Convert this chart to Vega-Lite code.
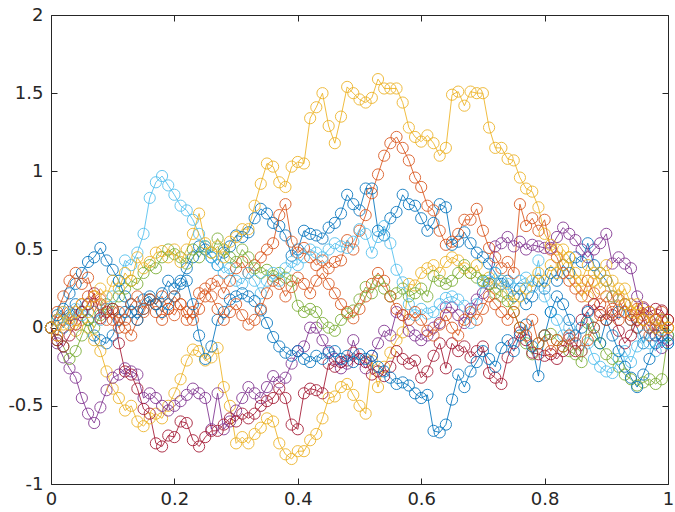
{
"$schema": "https://vega.github.io/schema/vega-lite/v6.json",
"width": 617, "height": 469,
"autosize": {"type": "none"},
"padding": {"left": 51, "top": 15, "right": 7, "bottom": 28},
"config": {"view": {"stroke": "#262626", "strokeWidth": 1}, "axis": {"grid": false, "domain": false, "tickColor": "#262626", "labelColor": "#262626", "labelFont": "DejaVu Sans", "labelFontSize": 18, "title": null}},
"datasets": {"d": [
{"s":1,"x":0,"y":0},{"s":1,"x":0.01,"y":0.05},{"s":1,"x":0.02,"y":0},{"s":1,"x":0.03,"y":0.08},{"s":1,"x":0.04,"y":0.15},{"s":1,"x":0.05,"y":0.1},{"s":1,"x":0.06,"y":0.05},{"s":1,"x":0.07,"y":-0.05},{"s":1,"x":0.08,"y":-0.08},{"s":1,"x":0.09,"y":-0.1},
{"s":1,"x":0.1,"y":-0.05},{"s":1,"x":0.11,"y":0.05},{"s":1,"x":0.12,"y":0.1},{"s":1,"x":0.13,"y":0.15},{"s":1,"x":0.14,"y":0.1},{"s":1,"x":0.15,"y":0.18},{"s":1,"x":0.16,"y":0.2},{"s":1,"x":0.17,"y":0.15},{"s":1,"x":0.18,"y":0.22},{"s":1,"x":0.19,"y":0.3},
{"s":1,"x":0.2,"y":0.25},{"s":1,"x":0.21,"y":0.3},{"s":1,"x":0.22,"y":0.38},{"s":1,"x":0.23,"y":0.45},{"s":1,"x":0.24,"y":0.52},{"s":1,"x":0.25,"y":0.5},{"s":1,"x":0.26,"y":0.45},{"s":1,"x":0.27,"y":0.4},{"s":1,"x":0.28,"y":0.48},{"s":1,"x":0.29,"y":0.52},
{"s":1,"x":0.3,"y":0.59},{"s":1,"x":0.31,"y":0.58},{"s":1,"x":0.32,"y":0.61},{"s":1,"x":0.33,"y":0.7},{"s":1,"x":0.34,"y":0.76},{"s":1,"x":0.35,"y":0.73},{"s":1,"x":0.36,"y":0.67},{"s":1,"x":0.37,"y":0.65},{"s":1,"x":0.38,"y":0.59},{"s":1,"x":0.39,"y":0.46},
{"s":1,"x":0.4,"y":0.5},{"s":1,"x":0.41,"y":0.62},{"s":1,"x":0.42,"y":0.6},{"s":1,"x":0.43,"y":0.59},{"s":1,"x":0.44,"y":0.57},{"s":1,"x":0.45,"y":0.64},{"s":1,"x":0.46,"y":0.67},{"s":1,"x":0.47,"y":0.73},{"s":1,"x":0.48,"y":0.85},{"s":1,"x":0.49,"y":0.79},
{"s":1,"x":0.5,"y":0.75},{"s":1,"x":0.51,"y":0.89},{"s":1,"x":0.52,"y":0.89},{"s":1,"x":0.53,"y":0.62},{"s":1,"x":0.54,"y":0.59},{"s":1,"x":0.55,"y":0.7},{"s":1,"x":0.56,"y":0.74},{"s":1,"x":0.57,"y":0.85},{"s":1,"x":0.58,"y":0.79},{"s":1,"x":0.59,"y":0.78},
{"s":1,"x":0.6,"y":0.7},{"s":1,"x":0.61,"y":0.62},{"s":1,"x":0.62,"y":0.67},{"s":1,"x":0.63,"y":0.79},{"s":1,"x":0.64,"y":0.77},{"s":1,"x":0.65,"y":0.53},{"s":1,"x":0.66,"y":0.55},{"s":1,"x":0.67,"y":0.61},{"s":1,"x":0.68,"y":0.54},{"s":1,"x":0.69,"y":0.48},
{"s":1,"x":0.7,"y":0.45},{"s":1,"x":0.71,"y":0.41},{"s":1,"x":0.72,"y":0.35},{"s":1,"x":0.73,"y":0.28},{"s":1,"x":0.74,"y":0.3},{"s":1,"x":0.75,"y":0.2},{"s":1,"x":0.76,"y":0.25},{"s":1,"x":0.77,"y":0.15},{"s":1,"x":0.78,"y":0.2},{"s":1,"x":0.79,"y":0.3},
{"s":1,"x":0.8,"y":0.25},{"s":1,"x":0.81,"y":0.35},{"s":1,"x":0.82,"y":0.3},{"s":1,"x":0.83,"y":0.4},{"s":1,"x":0.84,"y":0.35},{"s":1,"x":0.85,"y":0.45},{"s":1,"x":0.86,"y":0.42},{"s":1,"x":0.87,"y":0.54},{"s":1,"x":0.88,"y":0.4},{"s":1,"x":0.89,"y":0.35},
{"s":1,"x":0.9,"y":0.3},{"s":1,"x":0.91,"y":0.2},{"s":1,"x":0.92,"y":0.1},{"s":1,"x":0.93,"y":0.15},{"s":1,"x":0.94,"y":0.05},{"s":1,"x":0.95,"y":0},{"s":1,"x":0.96,"y":-0.1},{"s":1,"x":0.97,"y":0},{"s":1,"x":0.98,"y":-0.05},{"s":1,"x":0.99,"y":0.05},{"s":1,"x":1,"y":-0.05},

{"s":2,"x":0,"y":0},{"s":2,"x":0.01,"y":-0.05},{"s":2,"x":0.02,"y":0.05},{"s":2,"x":0.03,"y":0.1},{"s":2,"x":0.04,"y":0.05},{"s":2,"x":0.05,"y":0.15},{"s":2,"x":0.06,"y":0.2},{"s":2,"x":0.07,"y":0.1},{"s":2,"x":0.08,"y":0.18},{"s":2,"x":0.09,"y":0.12},
{"s":2,"x":0.1,"y":0.05},{"s":2,"x":0.11,"y":0.1},{"s":2,"x":0.12,"y":0},{"s":2,"x":0.13,"y":-0.05},{"s":2,"x":0.14,"y":0.05},{"s":2,"x":0.15,"y":0.1},{"s":2,"x":0.16,"y":0.18},{"s":2,"x":0.17,"y":0.15},{"s":2,"x":0.18,"y":0.2},{"s":2,"x":0.19,"y":0.12},
{"s":2,"x":0.2,"y":0.08},{"s":2,"x":0.21,"y":0.15},{"s":2,"x":0.22,"y":0.1},{"s":2,"x":0.23,"y":0.05},{"s":2,"x":0.24,"y":0.12},{"s":2,"x":0.25,"y":0.2},{"s":2,"x":0.26,"y":0.28},{"s":2,"x":0.27,"y":0.3},{"s":2,"x":0.28,"y":0.22},{"s":2,"x":0.29,"y":0.3},
{"s":2,"x":0.3,"y":0.38},{"s":2,"x":0.31,"y":0.42},{"s":2,"x":0.32,"y":0.35},{"s":2,"x":0.33,"y":0.4},{"s":2,"x":0.34,"y":0.45},{"s":2,"x":0.35,"y":0.5},{"s":2,"x":0.36,"y":0.54},{"s":2,"x":0.37,"y":0.72},{"s":2,"x":0.38,"y":0.79},{"s":2,"x":0.39,"y":0.55},
{"s":2,"x":0.4,"y":0.48},{"s":2,"x":0.41,"y":0.51},{"s":2,"x":0.42,"y":0.45},{"s":2,"x":0.43,"y":0.4},{"s":2,"x":0.44,"y":0.43},{"s":2,"x":0.45,"y":0.38},{"s":2,"x":0.46,"y":0.42},{"s":2,"x":0.47,"y":0.43},{"s":2,"x":0.48,"y":0.56},{"s":2,"x":0.49,"y":0.5},
{"s":2,"x":0.5,"y":0.62},{"s":2,"x":0.51,"y":0.72},{"s":2,"x":0.52,"y":0.86},{"s":2,"x":0.53,"y":0.98},{"s":2,"x":0.54,"y":1.1},{"s":2,"x":0.55,"y":1.18},{"s":2,"x":0.56,"y":1.22},{"s":2,"x":0.57,"y":1.15},{"s":2,"x":0.58,"y":1.07},{"s":2,"x":0.59,"y":0.96},
{"s":2,"x":0.6,"y":0.9},{"s":2,"x":0.61,"y":0.78},{"s":2,"x":0.62,"y":0.75},{"s":2,"x":0.63,"y":0.62},{"s":2,"x":0.64,"y":0.53},{"s":2,"x":0.65,"y":0.55},{"s":2,"x":0.66,"y":0.6},{"s":2,"x":0.67,"y":0.69},{"s":2,"x":0.68,"y":0.69},{"s":2,"x":0.69,"y":0.76},
{"s":2,"x":0.7,"y":0.62},{"s":2,"x":0.71,"y":0.51},{"s":2,"x":0.72,"y":0.45},{"s":2,"x":0.73,"y":0.38},{"s":2,"x":0.74,"y":0.42},{"s":2,"x":0.75,"y":0.35},{"s":2,"x":0.76,"y":0.79},{"s":2,"x":0.77,"y":0.65},{"s":2,"x":0.78,"y":0.7},{"s":2,"x":0.79,"y":0.62},
{"s":2,"x":0.8,"y":0.69},{"s":2,"x":0.81,"y":0.5},{"s":2,"x":0.82,"y":0.45},{"s":2,"x":0.83,"y":0.35},{"s":2,"x":0.84,"y":0.3},{"s":2,"x":0.85,"y":0.25},{"s":2,"x":0.86,"y":0.2},{"s":2,"x":0.87,"y":0.3},{"s":2,"x":0.88,"y":0.22},{"s":2,"x":0.89,"y":0.15},
{"s":2,"x":0.9,"y":0.2},{"s":2,"x":0.91,"y":0.1},{"s":2,"x":0.92,"y":0.05},{"s":2,"x":0.93,"y":0.15},{"s":2,"x":0.94,"y":0.08},{"s":2,"x":0.95,"y":0},{"s":2,"x":0.96,"y":0.05},{"s":2,"x":0.97,"y":-0.05},{"s":2,"x":0.98,"y":0.02},{"s":2,"x":0.99,"y":0.1},{"s":2,"x":1,"y":0.05},

{"s":3,"x":0,"y":0},{"s":3,"x":0.01,"y":-0.05},{"s":3,"x":0.02,"y":0.02},{"s":3,"x":0.03,"y":0.06},{"s":3,"x":0.04,"y":-0.02},{"s":3,"x":0.05,"y":0.05},{"s":3,"x":0.06,"y":0},{"s":3,"x":0.07,"y":-0.08},{"s":3,"x":0.08,"y":-0.15},{"s":3,"x":0.09,"y":-0.28},
{"s":3,"x":0.1,"y":-0.39},{"s":3,"x":0.11,"y":-0.45},{"s":3,"x":0.12,"y":-0.53},{"s":3,"x":0.13,"y":-0.5},{"s":3,"x":0.14,"y":-0.6},{"s":3,"x":0.15,"y":-0.63},{"s":3,"x":0.16,"y":-0.58},{"s":3,"x":0.17,"y":-0.55},{"s":3,"x":0.18,"y":-0.58},{"s":3,"x":0.19,"y":-0.5},
{"s":3,"x":0.2,"y":-0.42},{"s":3,"x":0.21,"y":-0.33},{"s":3,"x":0.22,"y":-0.21},{"s":3,"x":0.23,"y":-0.14},{"s":3,"x":0.24,"y":-0.15},{"s":3,"x":0.25,"y":-0.21},{"s":3,"x":0.26,"y":-0.19},{"s":3,"x":0.27,"y":-0.13},{"s":3,"x":0.28,"y":-0.38},{"s":3,"x":0.29,"y":-0.5},
{"s":3,"x":0.3,"y":-0.74},{"s":3,"x":0.31,"y":-0.7},{"s":3,"x":0.32,"y":-0.74},{"s":3,"x":0.33,"y":-0.68},{"s":3,"x":0.34,"y":-0.64},{"s":3,"x":0.35,"y":-0.58},{"s":3,"x":0.36,"y":-0.6},{"s":3,"x":0.37,"y":-0.74},{"s":3,"x":0.38,"y":-0.81},{"s":3,"x":0.39,"y":-0.84},
{"s":3,"x":0.4,"y":-0.79},{"s":3,"x":0.41,"y":-0.79},{"s":3,"x":0.42,"y":-0.72},{"s":3,"x":0.43,"y":-0.68},{"s":3,"x":0.44,"y":-0.58},{"s":3,"x":0.45,"y":-0.45},{"s":3,"x":0.46,"y":-0.44},{"s":3,"x":0.47,"y":-0.38},{"s":3,"x":0.48,"y":-0.36},{"s":3,"x":0.49,"y":-0.43},
{"s":3,"x":0.5,"y":-0.5},{"s":3,"x":0.51,"y":-0.55},{"s":3,"x":0.52,"y":-0.21},{"s":3,"x":0.53,"y":-0.38},{"s":3,"x":0.54,"y":-0.25},{"s":3,"x":0.55,"y":-0.16},{"s":3,"x":0.56,"y":-0.08},{"s":3,"x":0.57,"y":-0.03},{"s":3,"x":0.58,"y":0.28},{"s":3,"x":0.59,"y":0.27},
{"s":3,"x":0.6,"y":0.35},{"s":3,"x":0.61,"y":0.38},{"s":3,"x":0.62,"y":0.4},{"s":3,"x":0.63,"y":0.35},{"s":3,"x":0.64,"y":0.42},{"s":3,"x":0.65,"y":0.45},{"s":3,"x":0.66,"y":0.43},{"s":3,"x":0.67,"y":0.38},{"s":3,"x":0.68,"y":0.35},{"s":3,"x":0.69,"y":0.4},
{"s":3,"x":0.7,"y":0.3},{"s":3,"x":0.71,"y":0.32},{"s":3,"x":0.72,"y":0.25},{"s":3,"x":0.73,"y":0.3},{"s":3,"x":0.74,"y":0.22},{"s":3,"x":0.75,"y":0.15},{"s":3,"x":0.76,"y":0.2},{"s":3,"x":0.77,"y":0.25},{"s":3,"x":0.78,"y":0.3},{"s":3,"x":0.79,"y":0.35},
{"s":3,"x":0.8,"y":0.3},{"s":3,"x":0.81,"y":0.4},{"s":3,"x":0.82,"y":0.35},{"s":3,"x":0.83,"y":0.5},{"s":3,"x":0.84,"y":0.45},{"s":3,"x":0.85,"y":0.3},{"s":3,"x":0.86,"y":0.25},{"s":3,"x":0.87,"y":0.2},{"s":3,"x":0.88,"y":0.3},{"s":3,"x":0.89,"y":0.35},
{"s":3,"x":0.9,"y":0.4},{"s":3,"x":0.91,"y":0.3},{"s":3,"x":0.92,"y":0.2},{"s":3,"x":0.93,"y":0.25},{"s":3,"x":0.94,"y":0.15},{"s":3,"x":0.95,"y":0.1},{"s":3,"x":0.96,"y":0.05},{"s":3,"x":0.97,"y":0.1},{"s":3,"x":0.98,"y":0.05},{"s":3,"x":0.99,"y":0},{"s":3,"x":1,"y":0},

{"s":4,"x":0,"y":0},{"s":4,"x":0.01,"y":-0.1},{"s":4,"x":0.02,"y":-0.19},{"s":4,"x":0.03,"y":-0.26},{"s":4,"x":0.04,"y":-0.32},{"s":4,"x":0.05,"y":-0.45},{"s":4,"x":0.06,"y":-0.55},{"s":4,"x":0.07,"y":-0.61},{"s":4,"x":0.08,"y":-0.51},{"s":4,"x":0.09,"y":-0.4},
{"s":4,"x":0.1,"y":-0.32},{"s":4,"x":0.11,"y":-0.3},{"s":4,"x":0.12,"y":-0.26},{"s":4,"x":0.13,"y":-0.28},{"s":4,"x":0.14,"y":-0.3},{"s":4,"x":0.15,"y":-0.45},{"s":4,"x":0.16,"y":-0.42},{"s":4,"x":0.17,"y":-0.45},{"s":4,"x":0.18,"y":-0.5},{"s":4,"x":0.19,"y":-0.53},
{"s":4,"x":0.2,"y":-0.5},{"s":4,"x":0.21,"y":-0.47},{"s":4,"x":0.22,"y":-0.43},{"s":4,"x":0.23,"y":-0.39},{"s":4,"x":0.24,"y":-0.42},{"s":4,"x":0.25,"y":-0.45},{"s":4,"x":0.26,"y":-0.65},{"s":4,"x":0.27,"y":-0.42},{"s":4,"x":0.28,"y":-0.65},{"s":4,"x":0.29,"y":-0.6},
{"s":4,"x":0.3,"y":-0.53},{"s":4,"x":0.31,"y":-0.45},{"s":4,"x":0.32,"y":-0.38},{"s":4,"x":0.33,"y":-0.42},{"s":4,"x":0.34,"y":-0.45},{"s":4,"x":0.35,"y":-0.38},{"s":4,"x":0.36,"y":-0.31},{"s":4,"x":0.37,"y":-0.35},{"s":4,"x":0.38,"y":-0.32},{"s":4,"x":0.39,"y":-0.23},
{"s":4,"x":0.4,"y":-0.15},{"s":4,"x":0.41,"y":-0.12},{"s":4,"x":0.42,"y":0},{"s":4,"x":0.43,"y":0},{"s":4,"x":0.44,"y":-0.08},{"s":4,"x":0.45,"y":-0.15},{"s":4,"x":0.46,"y":-0.2},{"s":4,"x":0.47,"y":-0.26},{"s":4,"x":0.48,"y":-0.23},{"s":4,"x":0.49,"y":-0.08},
{"s":4,"x":0.5,"y":-0.2},{"s":4,"x":0.51,"y":-0.26},{"s":4,"x":0.52,"y":-0.18},{"s":4,"x":0.53,"y":-0.1},{"s":4,"x":0.54,"y":-0.02},{"s":4,"x":0.55,"y":-0.05},{"s":4,"x":0.56,"y":0.1},{"s":4,"x":0.57,"y":0.08},{"s":4,"x":0.58,"y":-0.02},{"s":4,"x":0.59,"y":-0.05},
{"s":4,"x":0.6,"y":-0.08},{"s":4,"x":0.61,"y":-0.05},{"s":4,"x":0.62,"y":0},{"s":4,"x":0.63,"y":0.03},{"s":4,"x":0.64,"y":0.13},{"s":4,"x":0.65,"y":0.13},{"s":4,"x":0.66,"y":0.08},{"s":4,"x":0.67,"y":0.03},{"s":4,"x":0.68,"y":0.12},{"s":4,"x":0.69,"y":0.18},
{"s":4,"x":0.7,"y":0.22},{"s":4,"x":0.71,"y":0.28},{"s":4,"x":0.72,"y":0.52},{"s":4,"x":0.73,"y":0.54},{"s":4,"x":0.74,"y":0.58},{"s":4,"x":0.75,"y":0.52},{"s":4,"x":0.76,"y":0.55},{"s":4,"x":0.77,"y":0.5},{"s":4,"x":0.78,"y":0.53},{"s":4,"x":0.79,"y":0.52},
{"s":4,"x":0.8,"y":0.51},{"s":4,"x":0.81,"y":0.51},{"s":4,"x":0.82,"y":0.58},{"s":4,"x":0.83,"y":0.64},{"s":4,"x":0.84,"y":0.6},{"s":4,"x":0.85,"y":0.56},{"s":4,"x":0.86,"y":0.5},{"s":4,"x":0.87,"y":0.45},{"s":4,"x":0.88,"y":0.5},{"s":4,"x":0.89,"y":0.54},
{"s":4,"x":0.9,"y":0.6},{"s":4,"x":0.91,"y":0.41},{"s":4,"x":0.92,"y":0.45},{"s":4,"x":0.93,"y":0.41},{"s":4,"x":0.94,"y":0.38},{"s":4,"x":0.95,"y":0.2},{"s":4,"x":0.96,"y":0.12},{"s":4,"x":0.97,"y":0.05},{"s":4,"x":0.98,"y":-0.05},{"s":4,"x":0.99,"y":-0.13},{"s":4,"x":1,"y":-0.08},

{"s":5,"x":0,"y":0},{"s":5,"x":0.01,"y":-0.08},{"s":5,"x":0.02,"y":-0.12},{"s":5,"x":0.03,"y":-0.2},{"s":5,"x":0.04,"y":-0.15},{"s":5,"x":0.05,"y":-0.05},{"s":5,"x":0.06,"y":0.05},{"s":5,"x":0.07,"y":0},{"s":5,"x":0.08,"y":0.08},{"s":5,"x":0.09,"y":0.15},
{"s":5,"x":0.1,"y":0.12},{"s":5,"x":0.11,"y":0.2},{"s":5,"x":0.12,"y":0.25},{"s":5,"x":0.13,"y":0.3},{"s":5,"x":0.14,"y":0.28},{"s":5,"x":0.15,"y":0.35},{"s":5,"x":0.16,"y":0.4},{"s":5,"x":0.17,"y":0.38},{"s":5,"x":0.18,"y":0.45},{"s":5,"x":0.19,"y":0.5},
{"s":5,"x":0.2,"y":0.47},{"s":5,"x":0.21,"y":0.45},{"s":5,"x":0.22,"y":0.41},{"s":5,"x":0.23,"y":0.5},{"s":5,"x":0.24,"y":0.45},{"s":5,"x":0.25,"y":0.52},{"s":5,"x":0.26,"y":0.48},{"s":5,"x":0.27,"y":0.57},{"s":5,"x":0.28,"y":0.5},{"s":5,"x":0.29,"y":0.45},
{"s":5,"x":0.3,"y":0.42},{"s":5,"x":0.31,"y":0.5},{"s":5,"x":0.32,"y":0.45},{"s":5,"x":0.33,"y":0.38},{"s":5,"x":0.34,"y":0.35},{"s":5,"x":0.35,"y":0.37},{"s":5,"x":0.36,"y":0.33},{"s":5,"x":0.37,"y":0.35},{"s":5,"x":0.38,"y":0.32},{"s":5,"x":0.39,"y":0.3},
{"s":5,"x":0.4,"y":0.14},{"s":5,"x":0.41,"y":0.1},{"s":5,"x":0.42,"y":0.12},{"s":5,"x":0.43,"y":0.1},{"s":5,"x":0.44,"y":0.03},{"s":5,"x":0.45,"y":0},{"s":5,"x":0.46,"y":-0.02},{"s":5,"x":0.47,"y":0.05},{"s":5,"x":0.48,"y":0.09},{"s":5,"x":0.49,"y":0.11},
{"s":5,"x":0.5,"y":0.18},{"s":5,"x":0.51,"y":0.26},{"s":5,"x":0.52,"y":0.22},{"s":5,"x":0.53,"y":0.3},{"s":5,"x":0.54,"y":0.25},{"s":5,"x":0.55,"y":0.2},{"s":5,"x":0.56,"y":0.22},{"s":5,"x":0.57,"y":0.25},{"s":5,"x":0.58,"y":0.2},{"s":5,"x":0.59,"y":0.22},
{"s":5,"x":0.6,"y":0.25},{"s":5,"x":0.61,"y":0.2},{"s":5,"x":0.62,"y":0.33},{"s":5,"x":0.63,"y":0.3},{"s":5,"x":0.64,"y":0.28},{"s":5,"x":0.65,"y":0.3},{"s":5,"x":0.66,"y":0.35},{"s":5,"x":0.67,"y":0.4},{"s":5,"x":0.68,"y":0.35},{"s":5,"x":0.69,"y":0.32},
{"s":5,"x":0.7,"y":0.3},{"s":5,"x":0.71,"y":0.28},{"s":5,"x":0.72,"y":0.22},{"s":5,"x":0.73,"y":0.2},{"s":5,"x":0.74,"y":0.17},{"s":5,"x":0.75,"y":0.1},{"s":5,"x":0.76,"y":0},{"s":5,"x":0.77,"y":-0.1},{"s":5,"x":0.78,"y":-0.17},{"s":5,"x":0.79,"y":-0.1},
{"s":5,"x":0.8,"y":-0.05},{"s":5,"x":0.81,"y":-0.04},{"s":5,"x":0.82,"y":-0.08},{"s":5,"x":0.83,"y":-0.12},{"s":5,"x":0.84,"y":-0.15},{"s":5,"x":0.85,"y":-0.17},{"s":5,"x":0.86,"y":-0.22},{"s":5,"x":0.87,"y":0.03},{"s":5,"x":0.88,"y":-0.05},{"s":5,"x":0.89,"y":-0.1},
{"s":5,"x":0.9,"y":-0.17},{"s":5,"x":0.91,"y":-0.2},{"s":5,"x":0.92,"y":-0.25},{"s":5,"x":0.93,"y":-0.3},{"s":5,"x":0.94,"y":-0.33},{"s":5,"x":0.95,"y":-0.37},{"s":5,"x":0.96,"y":-0.35},{"s":5,"x":0.97,"y":-0.33},{"s":5,"x":0.98,"y":-0.36},{"s":5,"x":0.99,"y":-0.33},{"s":5,"x":1,"y":-0.05},

{"s":6,"x":0,"y":0},{"s":6,"x":0.01,"y":0.05},{"s":6,"x":0.02,"y":0.1},{"s":6,"x":0.03,"y":0.05},{"s":6,"x":0.04,"y":0.12},{"s":6,"x":0.05,"y":0.08},{"s":6,"x":0.06,"y":0.15},{"s":6,"x":0.07,"y":0.1},{"s":6,"x":0.08,"y":0.05},{"s":6,"x":0.09,"y":0.12},
{"s":6,"x":0.1,"y":0.2},{"s":6,"x":0.11,"y":0.3},{"s":6,"x":0.12,"y":0.43},{"s":6,"x":0.13,"y":0.4},{"s":6,"x":0.14,"y":0.48},{"s":6,"x":0.15,"y":0.6},{"s":6,"x":0.16,"y":0.83},{"s":6,"x":0.17,"y":0.93},{"s":6,"x":0.18,"y":0.97},{"s":6,"x":0.19,"y":0.91},
{"s":6,"x":0.2,"y":0.85},{"s":6,"x":0.21,"y":0.78},{"s":6,"x":0.22,"y":0.75},{"s":6,"x":0.23,"y":0.69},{"s":6,"x":0.24,"y":0.6},{"s":6,"x":0.25,"y":0.52},{"s":6,"x":0.26,"y":0.45},{"s":6,"x":0.27,"y":0.4},{"s":6,"x":0.28,"y":0.35},{"s":6,"x":0.29,"y":0.38},
{"s":6,"x":0.3,"y":0.3},{"s":6,"x":0.31,"y":0.28},{"s":6,"x":0.32,"y":0.35},{"s":6,"x":0.33,"y":0.3},{"s":6,"x":0.34,"y":0.22},{"s":6,"x":0.35,"y":0.3},{"s":6,"x":0.36,"y":0.35},{"s":6,"x":0.37,"y":0.3},{"s":6,"x":0.38,"y":0.38},{"s":6,"x":0.39,"y":0.42},
{"s":6,"x":0.4,"y":0.4},{"s":6,"x":0.41,"y":0.45},{"s":6,"x":0.42,"y":0.5},{"s":6,"x":0.43,"y":0.48},{"s":6,"x":0.44,"y":0.45},{"s":6,"x":0.45,"y":0.5},{"s":6,"x":0.46,"y":0.54},{"s":6,"x":0.47,"y":0.52},{"s":6,"x":0.48,"y":0.51},{"s":6,"x":0.49,"y":0.55},
{"s":6,"x":0.5,"y":0.63},{"s":6,"x":0.51,"y":0.6},{"s":6,"x":0.52,"y":0.48},{"s":6,"x":0.53,"y":0.58},{"s":6,"x":0.54,"y":0.65},{"s":6,"x":0.55,"y":0.54},{"s":6,"x":0.56,"y":0.37},{"s":6,"x":0.57,"y":0.29},{"s":6,"x":0.58,"y":0.15},{"s":6,"x":0.59,"y":0.08},
{"s":6,"x":0.6,"y":0.12},{"s":6,"x":0.61,"y":0.09},{"s":6,"x":0.62,"y":0.1},{"s":6,"x":0.63,"y":0.15},{"s":6,"x":0.64,"y":0.19},{"s":6,"x":0.65,"y":0.2},{"s":6,"x":0.66,"y":0.18},{"s":6,"x":0.67,"y":0.14},{"s":6,"x":0.68,"y":0.03},{"s":6,"x":0.69,"y":0.15},
{"s":6,"x":0.7,"y":0.29},{"s":6,"x":0.71,"y":0.3},{"s":6,"x":0.72,"y":0.35},{"s":6,"x":0.73,"y":0.3},{"s":6,"x":0.74,"y":0.28},{"s":6,"x":0.75,"y":0.25},{"s":6,"x":0.76,"y":0.3},{"s":6,"x":0.77,"y":0.32},{"s":6,"x":0.78,"y":0.26},{"s":6,"x":0.79,"y":0.43},
{"s":6,"x":0.8,"y":0.2},{"s":6,"x":0.81,"y":0.1},{"s":6,"x":0.82,"y":0.05},{"s":6,"x":0.83,"y":-0.05},{"s":6,"x":0.84,"y":0},{"s":6,"x":0.85,"y":-0.1},{"s":6,"x":0.86,"y":-0.15},{"s":6,"x":0.87,"y":-0.1},{"s":6,"x":0.88,"y":-0.2},{"s":6,"x":0.89,"y":-0.25},
{"s":6,"x":0.9,"y":-0.28},{"s":6,"x":0.91,"y":-0.29},{"s":6,"x":0.92,"y":-0.2},{"s":6,"x":0.93,"y":-0.15},{"s":6,"x":0.94,"y":-0.22},{"s":6,"x":0.95,"y":-0.12},{"s":6,"x":0.96,"y":-0.05},{"s":6,"x":0.97,"y":-0.1},{"s":6,"x":0.98,"y":-0.15},{"s":6,"x":0.99,"y":-0.08},{"s":6,"x":1,"y":-0.1},

{"s":7,"x":0,"y":0},{"s":7,"x":0.01,"y":-0.08},{"s":7,"x":0.02,"y":-0.12},{"s":7,"x":0.03,"y":-0.05},{"s":7,"x":0.04,"y":0.02},{"s":7,"x":0.05,"y":0.1},{"s":7,"x":0.06,"y":0.15},{"s":7,"x":0.07,"y":0.22},{"s":7,"x":0.08,"y":0.06},{"s":7,"x":0.09,"y":0.1},
{"s":7,"x":0.1,"y":0.12},{"s":7,"x":0.11,"y":-0.1},{"s":7,"x":0.12,"y":-0.28},{"s":7,"x":0.13,"y":-0.3},{"s":7,"x":0.14,"y":-0.39},{"s":7,"x":0.15,"y":-0.52},{"s":7,"x":0.16,"y":-0.55},{"s":7,"x":0.17,"y":-0.74},{"s":7,"x":0.18,"y":-0.76},{"s":7,"x":0.19,"y":-0.69},
{"s":7,"x":0.2,"y":-0.7},{"s":7,"x":0.21,"y":-0.6},{"s":7,"x":0.22,"y":-0.61},{"s":7,"x":0.23,"y":-0.72},{"s":7,"x":0.24,"y":-0.76},{"s":7,"x":0.25,"y":-0.7},{"s":7,"x":0.26,"y":-0.66},{"s":7,"x":0.27,"y":-0.66},{"s":7,"x":0.28,"y":-0.62},{"s":7,"x":0.29,"y":-0.58},
{"s":7,"x":0.3,"y":-0.6},{"s":7,"x":0.31,"y":-0.55},{"s":7,"x":0.32,"y":-0.58},{"s":7,"x":0.33,"y":-0.55},{"s":7,"x":0.34,"y":-0.5},{"s":7,"x":0.35,"y":-0.47},{"s":7,"x":0.36,"y":-0.45},{"s":7,"x":0.37,"y":-0.39},{"s":7,"x":0.38,"y":-0.45},{"s":7,"x":0.39,"y":-0.62},
{"s":7,"x":0.4,"y":-0.65},{"s":7,"x":0.41,"y":-0.42},{"s":7,"x":0.42,"y":-0.39},{"s":7,"x":0.43,"y":-0.4},{"s":7,"x":0.44,"y":-0.42},{"s":7,"x":0.45,"y":-0.23},{"s":7,"x":0.46,"y":-0.25},{"s":7,"x":0.47,"y":-0.22},{"s":7,"x":0.48,"y":-0.21},{"s":7,"x":0.49,"y":-0.16},
{"s":7,"x":0.5,"y":-0.2},{"s":7,"x":0.51,"y":-0.22},{"s":7,"x":0.52,"y":-0.3},{"s":7,"x":0.53,"y":-0.28},{"s":7,"x":0.54,"y":-0.31},{"s":7,"x":0.55,"y":-0.25},{"s":7,"x":0.56,"y":-0.15},{"s":7,"x":0.57,"y":-0.2},{"s":7,"x":0.58,"y":-0.23},{"s":7,"x":0.59,"y":-0.21},
{"s":7,"x":0.6,"y":-0.32},{"s":7,"x":0.61,"y":-0.28},{"s":7,"x":0.62,"y":-0.18},{"s":7,"x":0.63,"y":-0.1},{"s":7,"x":0.64,"y":-0.26},{"s":7,"x":0.65,"y":-0.1},{"s":7,"x":0.66,"y":-0.15},{"s":7,"x":0.67,"y":-0.12},{"s":7,"x":0.68,"y":-0.19},{"s":7,"x":0.69,"y":-0.15},
{"s":7,"x":0.7,"y":-0.12},{"s":7,"x":0.71,"y":-0.29},{"s":7,"x":0.72,"y":-0.32},{"s":7,"x":0.73,"y":-0.36},{"s":7,"x":0.74,"y":-0.19},{"s":7,"x":0.75,"y":-0.1},{"s":7,"x":0.76,"y":-0.03},{"s":7,"x":0.77,"y":-0.08},{"s":7,"x":0.78,"y":-0.16},{"s":7,"x":0.79,"y":-0.17},
{"s":7,"x":0.8,"y":-0.18},{"s":7,"x":0.81,"y":-0.17},{"s":7,"x":0.82,"y":-0.2},{"s":7,"x":0.83,"y":-0.15},{"s":7,"x":0.84,"y":-0.07},{"s":7,"x":0.85,"y":-0.15},{"s":7,"x":0.86,"y":0.05},{"s":7,"x":0.87,"y":0.11},{"s":7,"x":0.88,"y":0.15},{"s":7,"x":0.89,"y":0.1},
{"s":7,"x":0.9,"y":0.05},{"s":7,"x":0.91,"y":0.08},{"s":7,"x":0.92,"y":-0.02},{"s":7,"x":0.93,"y":-0.1},{"s":7,"x":0.94,"y":-0.05},{"s":7,"x":0.95,"y":0.05},{"s":7,"x":0.96,"y":0.13},{"s":7,"x":0.97,"y":0.1},{"s":7,"x":0.98,"y":0.12},{"s":7,"x":0.99,"y":0.11},{"s":7,"x":1,"y":0.05},

{"s":8,"x":0,"y":0},{"s":8,"x":0.01,"y":0.08},{"s":8,"x":0.02,"y":0.12},{"s":8,"x":0.03,"y":0.22},{"s":8,"x":0.04,"y":0.28},{"s":8,"x":0.05,"y":0.35},{"s":8,"x":0.06,"y":0.42},{"s":8,"x":0.07,"y":0.45},{"s":8,"x":0.08,"y":0.51},{"s":8,"x":0.09,"y":0.43},
{"s":8,"x":0.1,"y":0.37},{"s":8,"x":0.11,"y":0.3},{"s":8,"x":0.12,"y":0.2},{"s":8,"x":0.13,"y":0.1},{"s":8,"x":0.14,"y":0.05},{"s":8,"x":0.15,"y":0.12},{"s":8,"x":0.16,"y":0.18},{"s":8,"x":0.17,"y":0.15},{"s":8,"x":0.18,"y":0.1},{"s":8,"x":0.19,"y":0.15},
{"s":8,"x":0.2,"y":0.2},{"s":8,"x":0.21,"y":0.28},{"s":8,"x":0.22,"y":0.3},{"s":8,"x":0.23,"y":0.15},{"s":8,"x":0.24,"y":-0.05},{"s":8,"x":0.25,"y":-0.2},{"s":8,"x":0.26,"y":-0.12},{"s":8,"x":0.27,"y":0.05},{"s":8,"x":0.28,"y":0.1},{"s":8,"x":0.29,"y":0.18},
{"s":8,"x":0.3,"y":0.2},{"s":8,"x":0.31,"y":0.22},{"s":8,"x":0.32,"y":0.2},{"s":8,"x":0.33,"y":0.17},{"s":8,"x":0.34,"y":0.11},{"s":8,"x":0.35,"y":0.03},{"s":8,"x":0.36,"y":-0.06},{"s":8,"x":0.37,"y":-0.12},{"s":8,"x":0.38,"y":-0.16},{"s":8,"x":0.39,"y":-0.18},
{"s":8,"x":0.4,"y":-0.15},{"s":8,"x":0.41,"y":-0.2},{"s":8,"x":0.42,"y":-0.22},{"s":8,"x":0.43,"y":-0.18},{"s":8,"x":0.44,"y":-0.2},{"s":8,"x":0.45,"y":-0.16},{"s":8,"x":0.46,"y":-0.15},{"s":8,"x":0.47,"y":-0.2},{"s":8,"x":0.48,"y":-0.18},{"s":8,"x":0.49,"y":-0.22},
{"s":8,"x":0.5,"y":-0.17},{"s":8,"x":0.51,"y":-0.2},{"s":8,"x":0.52,"y":-0.18},{"s":8,"x":0.53,"y":-0.25},{"s":8,"x":0.54,"y":-0.28},{"s":8,"x":0.55,"y":-0.32},{"s":8,"x":0.56,"y":-0.36},{"s":8,"x":0.57,"y":-0.35},{"s":8,"x":0.58,"y":-0.37},{"s":8,"x":0.59,"y":-0.42},
{"s":8,"x":0.6,"y":-0.45},{"s":8,"x":0.61,"y":-0.43},{"s":8,"x":0.62,"y":-0.66},{"s":8,"x":0.63,"y":-0.67},{"s":8,"x":0.64,"y":-0.62},{"s":8,"x":0.65,"y":-0.46},{"s":8,"x":0.66,"y":-0.3},{"s":8,"x":0.67,"y":-0.38},{"s":8,"x":0.68,"y":-0.28},{"s":8,"x":0.69,"y":-0.22},
{"s":8,"x":0.7,"y":-0.15},{"s":8,"x":0.71,"y":-0.2},{"s":8,"x":0.72,"y":-0.25},{"s":8,"x":0.73,"y":-0.13},{"s":8,"x":0.74,"y":-0.08},{"s":8,"x":0.75,"y":-0.15},{"s":8,"x":0.76,"y":-0.05},{"s":8,"x":0.77,"y":0.02},{"s":8,"x":0.78,"y":-0.12},{"s":8,"x":0.79,"y":-0.31},
{"s":8,"x":0.8,"y":-0.05},{"s":8,"x":0.81,"y":0.1},{"s":8,"x":0.82,"y":0.2},{"s":8,"x":0.83,"y":0.15},{"s":8,"x":0.84,"y":0.05},{"s":8,"x":0.85,"y":-0.05},{"s":8,"x":0.86,"y":0},{"s":8,"x":0.87,"y":0.1},{"s":8,"x":0.88,"y":0},{"s":8,"x":0.89,"y":-0.1},
{"s":8,"x":0.9,"y":0.05},{"s":8,"x":0.91,"y":-0.05},{"s":8,"x":0.92,"y":-0.15},{"s":8,"x":0.93,"y":-0.25},{"s":8,"x":0.94,"y":-0.32},{"s":8,"x":0.95,"y":-0.38},{"s":8,"x":0.96,"y":-0.3},{"s":8,"x":0.97,"y":-0.2},{"s":8,"x":0.98,"y":-0.1},{"s":8,"x":0.99,"y":-0.05},{"s":8,"x":1,"y":-0.1},

{"s":9,"x":0,"y":0},{"s":9,"x":0.01,"y":0.1},{"s":9,"x":0.02,"y":0.2},{"s":9,"x":0.03,"y":0.3},{"s":9,"x":0.04,"y":0.35},{"s":9,"x":0.05,"y":0.28},{"s":9,"x":0.06,"y":0.32},{"s":9,"x":0.07,"y":0.2},{"s":9,"x":0.08,"y":0.15},{"s":9,"x":0.09,"y":0.05},
{"s":9,"x":0.1,"y":0.1},{"s":9,"x":0.11,"y":0},{"s":9,"x":0.12,"y":0.05},{"s":9,"x":0.13,"y":0.15},{"s":9,"x":0.14,"y":0.2},{"s":9,"x":0.15,"y":0.12},{"s":9,"x":0.16,"y":0.18},{"s":9,"x":0.17,"y":0.1},{"s":9,"x":0.18,"y":0.05},{"s":9,"x":0.19,"y":0.12},
{"s":9,"x":0.2,"y":0.2},{"s":9,"x":0.21,"y":0.15},{"s":9,"x":0.22,"y":0.05},{"s":9,"x":0.23,"y":0.1},{"s":9,"x":0.24,"y":0.22},{"s":9,"x":0.25,"y":0.25},{"s":9,"x":0.26,"y":0.2},{"s":9,"x":0.27,"y":0.12},{"s":9,"x":0.28,"y":0.05},{"s":9,"x":0.29,"y":0.1},
{"s":9,"x":0.3,"y":0.15},{"s":9,"x":0.31,"y":0.08},{"s":9,"x":0.32,"y":0.02},{"s":9,"x":0.33,"y":0.05},{"s":9,"x":0.34,"y":0.12},{"s":9,"x":0.35,"y":0.22},{"s":9,"x":0.36,"y":0.3},{"s":9,"x":0.37,"y":0.28},{"s":9,"x":0.38,"y":0.2},{"s":9,"x":0.39,"y":0.26},
{"s":9,"x":0.4,"y":0.32},{"s":9,"x":0.41,"y":0.28},{"s":9,"x":0.42,"y":0.22},{"s":9,"x":0.43,"y":0.3},{"s":9,"x":0.44,"y":0.35},{"s":9,"x":0.45,"y":0.28},{"s":9,"x":0.46,"y":0.22},{"s":9,"x":0.47,"y":0.15},{"s":9,"x":0.48,"y":0.1},{"s":9,"x":0.49,"y":0.06},
{"s":9,"x":0.5,"y":0.12},{"s":9,"x":0.51,"y":0.2},{"s":9,"x":0.52,"y":0.28},{"s":9,"x":0.53,"y":0.35},{"s":9,"x":0.54,"y":0.3},{"s":9,"x":0.55,"y":0.2},{"s":9,"x":0.56,"y":0.12},{"s":9,"x":0.57,"y":0.08},{"s":9,"x":0.58,"y":0.05},{"s":9,"x":0.59,"y":0.1},
{"s":9,"x":0.6,"y":0.05},{"s":9,"x":0.61,"y":-0.02},{"s":9,"x":0.62,"y":-0.05},{"s":9,"x":0.63,"y":0.02},{"s":9,"x":0.64,"y":0.08},{"s":9,"x":0.65,"y":0},{"s":9,"x":0.66,"y":-0.05},{"s":9,"x":0.67,"y":0.05},{"s":9,"x":0.68,"y":0.1},{"s":9,"x":0.69,"y":0.05},
{"s":9,"x":0.7,"y":0.12},{"s":9,"x":0.71,"y":0.2},{"s":9,"x":0.72,"y":0.15},{"s":9,"x":0.73,"y":0.1},{"s":9,"x":0.74,"y":0.05},{"s":9,"x":0.75,"y":0.1},{"s":9,"x":0.76,"y":0},{"s":9,"x":0.77,"y":-0.05},{"s":9,"x":0.78,"y":0.05},{"s":9,"x":0.79,"y":-0.1},
{"s":9,"x":0.8,"y":-0.05},{"s":9,"x":0.81,"y":-0.15},{"s":9,"x":0.82,"y":-0.08},{"s":9,"x":0.83,"y":-0.12},{"s":9,"x":0.84,"y":-0.05},{"s":9,"x":0.85,"y":-0.1},{"s":9,"x":0.86,"y":-0.15},{"s":9,"x":0.87,"y":-0.08},{"s":9,"x":0.88,"y":0},{"s":9,"x":0.89,"y":0.08},
{"s":9,"x":0.9,"y":0.05},{"s":9,"x":0.91,"y":0.12},{"s":9,"x":0.92,"y":0.18},{"s":9,"x":0.93,"y":0.1},{"s":9,"x":0.94,"y":0.05},{"s":9,"x":0.95,"y":0.12},{"s":9,"x":0.96,"y":0.08},{"s":9,"x":0.97,"y":0},{"s":9,"x":0.98,"y":0.05},{"s":9,"x":0.99,"y":-0.02},{"s":9,"x":1,"y":0},

{"s":10,"x":0,"y":0},{"s":10,"x":0.01,"y":0.05},{"s":10,"x":0.02,"y":0.1},{"s":10,"x":0.03,"y":0.02},{"s":10,"x":0.04,"y":0.1},{"s":10,"x":0.05,"y":0.15},{"s":10,"x":0.06,"y":0.1},{"s":10,"x":0.07,"y":0.2},{"s":10,"x":0.08,"y":0.25},{"s":10,"x":0.09,"y":0.2},
{"s":10,"x":0.1,"y":0.3},{"s":10,"x":0.11,"y":0.25},{"s":10,"x":0.12,"y":0.35},{"s":10,"x":0.13,"y":0.3},{"s":10,"x":0.14,"y":0.45},{"s":10,"x":0.15,"y":0.38},{"s":10,"x":0.16,"y":0.42},{"s":10,"x":0.17,"y":0.48},{"s":10,"x":0.18,"y":0.49},{"s":10,"x":0.19,"y":0.45},
{"s":10,"x":0.2,"y":0.5},{"s":10,"x":0.21,"y":0.42},{"s":10,"x":0.22,"y":0.5},{"s":10,"x":0.23,"y":0.6},{"s":10,"x":0.24,"y":0.73},{"s":10,"x":0.25,"y":0.54},{"s":10,"x":0.26,"y":0.48},{"s":10,"x":0.27,"y":0.52},{"s":10,"x":0.28,"y":0.45},{"s":10,"x":0.29,"y":0.55},
{"s":10,"x":0.3,"y":0.58},{"s":10,"x":0.31,"y":0.63},{"s":10,"x":0.32,"y":0.63},{"s":10,"x":0.33,"y":0.78},{"s":10,"x":0.34,"y":0.92},{"s":10,"x":0.35,"y":1.05},{"s":10,"x":0.36,"y":1.03},{"s":10,"x":0.37,"y":0.93},{"s":10,"x":0.38,"y":0.9},{"s":10,"x":0.39,"y":1.03},
{"s":10,"x":0.4,"y":1.06},{"s":10,"x":0.41,"y":1.05},{"s":10,"x":0.42,"y":1.34},{"s":10,"x":0.43,"y":1.41},{"s":10,"x":0.44,"y":1.5},{"s":10,"x":0.45,"y":1.29},{"s":10,"x":0.46,"y":1.18},{"s":10,"x":0.47,"y":1.35},{"s":10,"x":0.48,"y":1.54},{"s":10,"x":0.49,"y":1.5},
{"s":10,"x":0.5,"y":1.46},{"s":10,"x":0.51,"y":1.44},{"s":10,"x":0.52,"y":1.47},{"s":10,"x":0.53,"y":1.59},{"s":10,"x":0.54,"y":1.53},{"s":10,"x":0.55,"y":1.53},{"s":10,"x":0.56,"y":1.53},{"s":10,"x":0.57,"y":1.44},{"s":10,"x":0.58,"y":1.28},{"s":10,"x":0.59,"y":1.22},
{"s":10,"x":0.6,"y":1.19},{"s":10,"x":0.61,"y":1.23},{"s":10,"x":0.62,"y":1.18},{"s":10,"x":0.63,"y":1.1},{"s":10,"x":0.64,"y":1.15},{"s":10,"x":0.65,"y":1.49},{"s":10,"x":0.66,"y":1.51},{"s":10,"x":0.67,"y":1.42},{"s":10,"x":0.68,"y":1.51},{"s":10,"x":0.69,"y":1.5},
{"s":10,"x":0.7,"y":1.5},{"s":10,"x":0.71,"y":1.28},{"s":10,"x":0.72,"y":1.15},{"s":10,"x":0.73,"y":1.15},{"s":10,"x":0.74,"y":1.08},{"s":10,"x":0.75,"y":1.07},{"s":10,"x":0.76,"y":0.96},{"s":10,"x":0.77,"y":0.89},{"s":10,"x":0.78,"y":0.87},{"s":10,"x":0.79,"y":0.77},
{"s":10,"x":0.8,"y":0.6},{"s":10,"x":0.81,"y":0.53},{"s":10,"x":0.82,"y":0.5},{"s":10,"x":0.83,"y":0.4},{"s":10,"x":0.84,"y":0.45},{"s":10,"x":0.85,"y":0.35},{"s":10,"x":0.86,"y":0.3},{"s":10,"x":0.87,"y":0.4},{"s":10,"x":0.88,"y":0.35},{"s":10,"x":0.89,"y":0.25},
{"s":10,"x":0.9,"y":0.3},{"s":10,"x":0.91,"y":0.2},{"s":10,"x":0.92,"y":0.25},{"s":10,"x":0.93,"y":0.15},{"s":10,"x":0.94,"y":0.1},{"s":10,"x":0.95,"y":0.15},{"s":10,"x":0.96,"y":0.05},{"s":10,"x":0.97,"y":0.1},{"s":10,"x":0.98,"y":0},{"s":10,"x":0.99,"y":0.05},{"s":10,"x":1,"y":0}
]},
"data": {"name": "d"},
"layer": [
{"mark": {"type": "line", "strokeWidth": 1, "opacity": 0.85},
 "encoding": {
  "x": {"field": "x", "type": "quantitative", "scale": {"domain": [0, 1], "nice": false, "zero": false},
        "axis": {"orient": "bottom", "values": [0, 0.2, 0.4, 0.6, 0.8, 1], "labelExpr": "'' + datum.value", "tickSize": -6, "labelPadding": 12, "labelFlush": false}},
  "y": {"field": "y", "type": "quantitative", "scale": {"domain": [-1, 2], "nice": false, "zero": false},
        "axis": {"orient": "left", "values": [-1, -0.5, 0, 0.5, 1, 1.5, 2], "labelExpr": "'' + datum.value", "tickSize": -6, "labelPadding": 14}},
  "color": {"field": "s", "type": "nominal", "legend": null,
        "scale": {"domain": [1,2,3,4,5,6,7,8,9,10], "range": ["#0072BD","#D95319","#EDB120","#7E2F8E","#77AC30","#4DBEEE","#A2142F","#0072BD","#D95319","#EDB120"]}}
 }},
{"mark": {"type": "point", "shape": "circle", "filled": false, "size": 125, "strokeWidth": 1, "opacity": 0.85},
 "encoding": {
  "x": {"field": "x", "type": "quantitative", "axis": {"orient": "top", "values": [0, 0.2, 0.4, 0.6, 0.8, 1], "labels": false, "tickSize": -6}},
  "y": {"field": "y", "type": "quantitative", "axis": {"orient": "right", "values": [-1, -0.5, 0, 0.5, 1, 1.5, 2], "labels": false, "tickSize": -6}},
  "color": {"field": "s", "type": "nominal", "legend": null}
 }}
],
"resolve": {"axis": {"x": "independent", "y": "independent"}}
}
